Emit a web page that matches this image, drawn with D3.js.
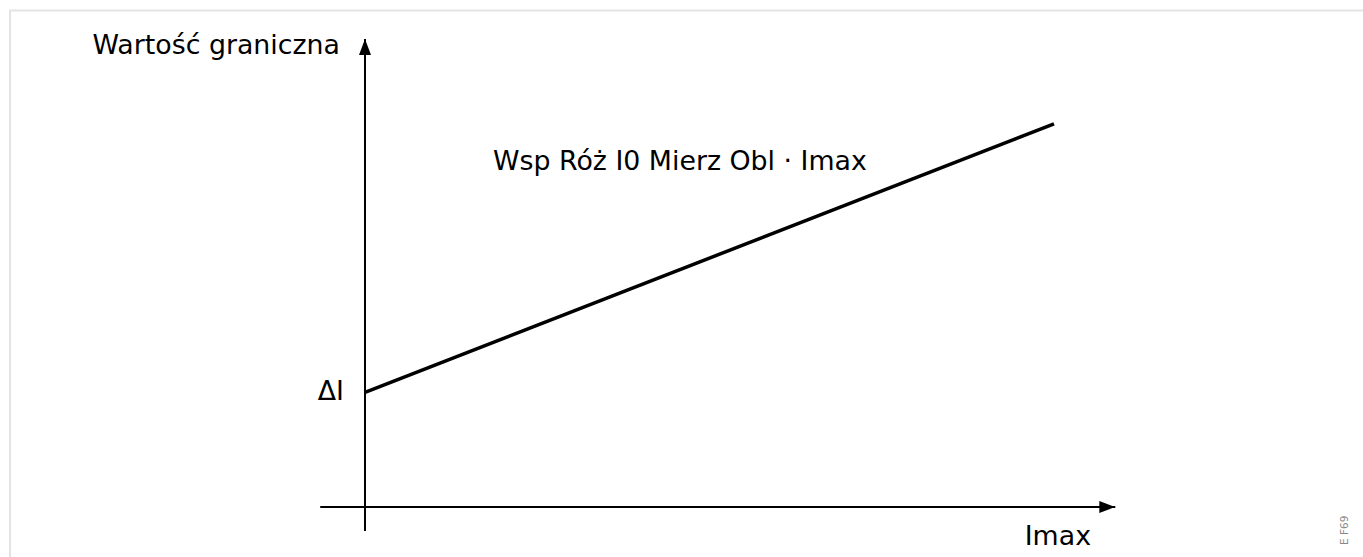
<!DOCTYPE html>
<html><head><meta charset="utf-8">
<script src="https://cdn.jsdelivr.net/npm/d3@7"></script>
<style>html,body{margin:0;padding:0;background:#fff;overflow:hidden}</style>
</head><body>
<svg id="c" width="1363" height="557"></svg>
<script>
// Data (conceptual characteristic)
const lineX = [0, 1];
const lineY = [1, 3.34];          // ΔI at x=0, rising linearly
const xAxisExtent = [-0.065, 1.089];
const yAxisExtent = [-0.21, 4.08];
const labels = {
  y: "Wartość graniczna",
  x: "Imax",
  slope: "Wsp Róż I0 Mierz Obl · Imax",
  dI: "ΔI",
  tag: "E F69"
};

const svg = d3.select("#c");
const font = "DejaVu Sans, Verdana, sans-serif";

const x = d3.scaleLinear().domain([0, 1]).range([365, 1054]);
const y = d3.scaleLinear().domain([0, 1]).range([507, 392.3]);

// frame
svg.append("rect").attr("x", 10).attr("y", 10.5).attr("width", 1400).attr("height", 600)
  .attr("fill", "none").attr("stroke", "#e4e4e4").attr("stroke-width", 2);

const defs = svg.append("defs");
defs.append("marker").attr("id", "arr").attr("viewBox", "0 0 16 12")
  .attr("refX", 16).attr("refY", 6).attr("markerWidth", 16).attr("markerHeight", 12)
  .attr("markerUnits", "userSpaceOnUse").attr("orient", "auto")
  .append("path").attr("d", "M0,0 L16,6 L0,12 Z").attr("fill", "#000");

// axes
svg.append("line").attr("x1", x(xAxisExtent[0])).attr("x2", x(xAxisExtent[1]))
  .attr("y1", y(0)).attr("y2", y(0)).attr("stroke", "#000").attr("stroke-width", 2)
  .attr("marker-end", "url(#arr)");
svg.append("line").attr("x1", x(0)).attr("x2", x(0))
  .attr("y1", y(yAxisExtent[0])).attr("y2", y(yAxisExtent[1])).attr("stroke", "#000").attr("stroke-width", 2)
  .attr("marker-end", "url(#arr)");

// characteristic line
const pts = lineX.map((v, i) => [x(v), y(lineY[i])]);
svg.append("path").attr("d", d3.line()(pts)).attr("fill", "none")
  .attr("stroke", "#000").attr("stroke-width", 3.5);

// texts
const fs = 26.8;
svg.append("text").attr("x", 340).attr("y", 53.5).attr("text-anchor", "end")
  .attr("font-family", font).attr("font-size", fs).text(labels.y);
svg.append("text").attr("x", 493).attr("y", 170)
  .attr("font-family", font).attr("font-size", fs).text(labels.slope);
svg.append("text").attr("x", 344).attr("y", 400).attr("text-anchor", "end")
  .attr("font-family", font).attr("font-size", fs).text(labels.dI);
svg.append("text").attr("x", 1091).attr("y", 545).attr("text-anchor", "end")
  .attr("font-family", font).attr("font-size", fs).text(labels.x);
svg.append("text").attr("transform", "translate(1348,545) rotate(-90)")
  .attr("font-family", font).attr("font-size", 10.5).attr("fill", "#888").text(labels.tag);
</script>
</body></html>
